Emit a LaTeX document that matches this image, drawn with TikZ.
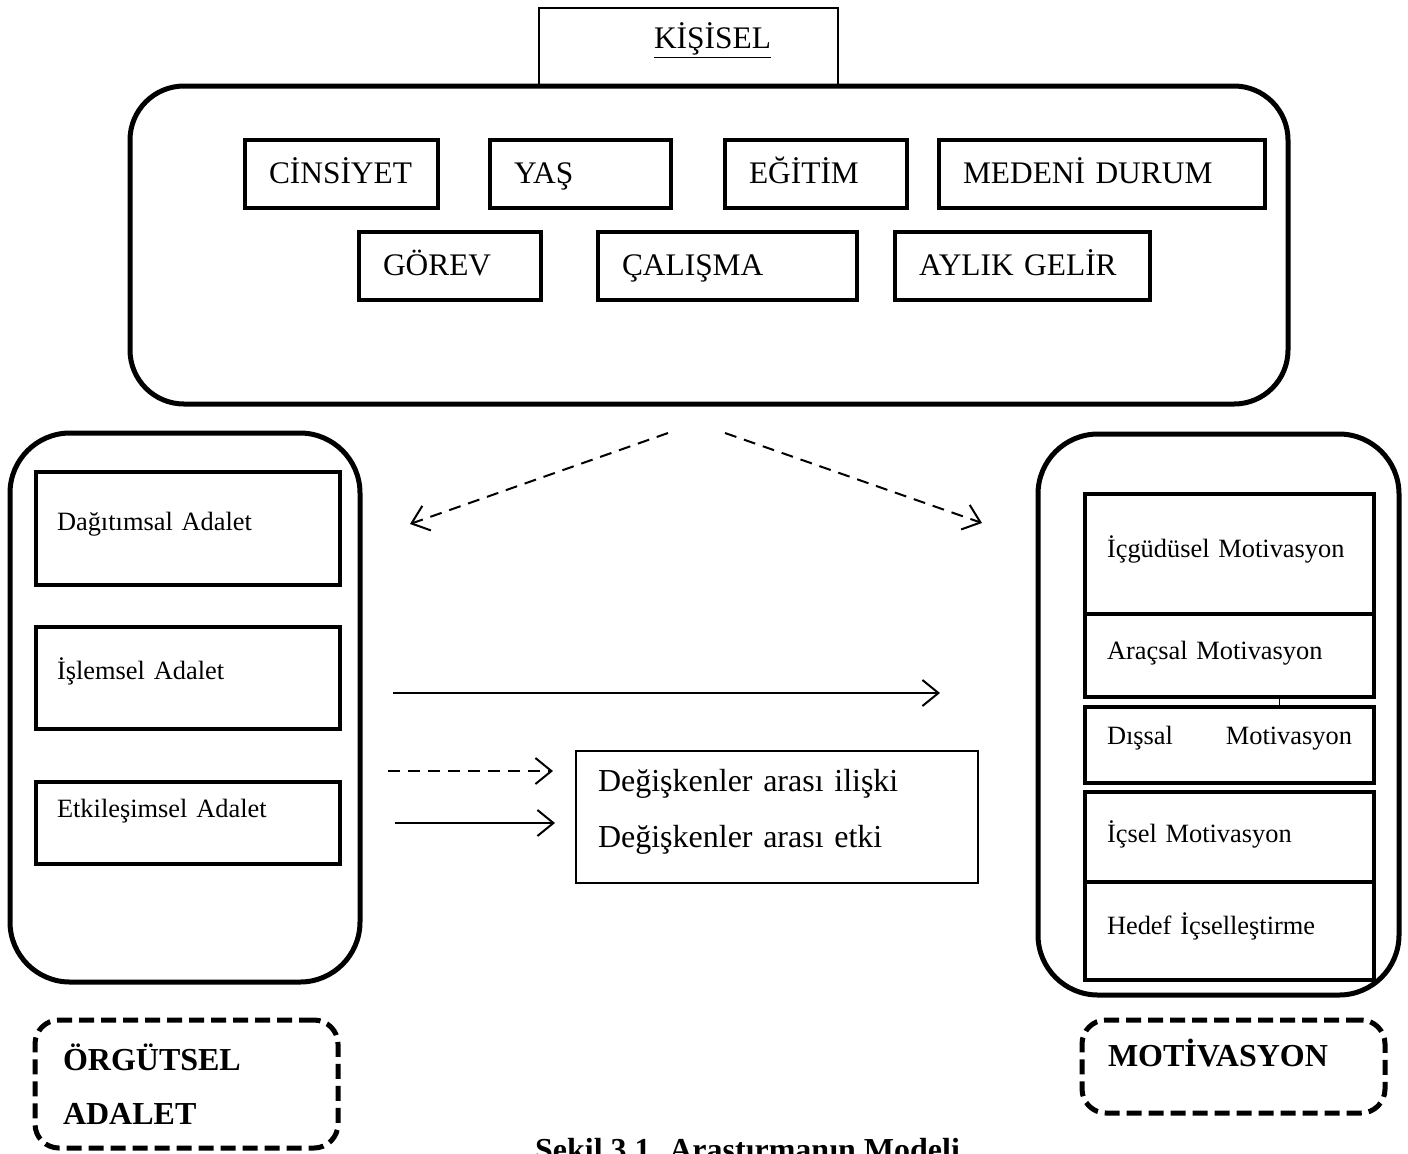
\documentclass[tikz,border=0pt]{standalone}
\usepackage{fontspec}
\setmainfont{Liberation Serif}
\usetikzlibrary{
  arrows.meta,
  positioning
}
\tikzset{
  kutu/.style={
    draw,
    line width=2pt,
    minimum height=34pt,
    inner xsep=12pt,
    inner ysep=0pt,
    text height=11pt,
    text depth=2pt,
    align=left,
    anchor=west,
    font=\fontsize{15.7}{18}\selectfont},
  alt/.style={
    draw,
    line width=2pt,
    inner ysep=0pt,
    text height=9pt,
    align=left,
    anchor=north west,
    font=\fontsize{13.2}{16}\selectfont},
  solic/.style={alt, inner xsep=10.5pt, text width=131pt},
  sagic/.style={alt, inner xsep=11pt, text width=122.5pt},
  kap/.style={draw, line width=2.5pt, rounded corners=30pt},
  grup/.style={
    draw,
    line width=2.5pt,
    dash pattern=on 7.5pt off 3.5pt,
    rounded corners=12pt,
    align=left,
    inner ysep=0pt,
    font=\bfseries\fontsize{16}{27}\selectfont},
  ok/.style={line width=1pt, -{Straight Barb[length=8pt,width=13pt]}},
  kesik/.style={ok, dash pattern=on 6pt off 4pt}
}
\begin{document}
\begin{tikzpicture}[x=0.5pt,y=-0.5pt]
	\useasboundingbox (0,0) rectangle (1408,1153);
	% kisisel ozellikler
	\node[draw, line width=0.8pt, anchor=north west, minimum width=149.5pt, minimum height=39.5pt] (baslikkutu) at (538,7) {};
	\node[anchor=base, font=\fontsize{15.7}{18}\selectfont] (baslik) at (712.5,48) {\underline{KİŞİSEL}};
	\node[kap, rounded corners=27pt, minimum width=579pt, minimum height=159pt] (kisisel) at (709,245) {};
	\node[kutu, text width=72.5pt] (cinsiyet) at (243,174) {CİNSİYET};
	\node[kutu, text width=66.5pt] (yas) at (488,174) {YAŞ};
	\node[kutu, text width=67pt] (egitim) at (723,174) {EĞİTİM};
	\node[kutu, text width=139pt] (medeni) at (937,174) {MEDENİ DURUM};
	\node[kutu, text width=67pt] (gorev) at (357,266) {GÖREV};
	\node[kutu, text width=105.5pt] (calisma) at (596,266) {ÇALIŞMA};
	\node[kutu, text width=103.5pt] (gelir) at (893,266) {AYLIK GELİR};
	% orgutsel adalet
	\node[kap, minimum width=175pt, minimum height=274.5pt] (adalet) at (185,707.5) {};
	\node[solic, minimum height=56.5pt, text depth=7.5pt] (dagitim) at (34,470) {Dağıtımsal Adalet};
	\node[solic, minimum height=51pt, text depth=8pt] (islem) at (34,625) {İşlemsel Adalet};
	\node[solic, minimum height=41pt, text depth=15pt] (etkilesim) at (34,780) {Etkileşimsel Adalet};
	% motivasyon
	\node[kap, minimum width=180.5pt, minimum height=280.5pt] (motivasyon) at (1218.5,714.5) {};
	\node[sagic, minimum height=60pt, text depth=6pt] (icgudu) at (1083,492) {İçgüdüsel Motivasyon};
	\node[sagic, minimum height=41.5pt, text depth=5.5pt] (aracsal) at (1083,612) {Araçsal Motivasyon};
	\node[sagic, minimum height=38pt, text depth=10pt] (dissal) at (1083,705) {Dışsal\hfill Motivasyon};
	\node[sagic, minimum height=45pt, text depth=4pt] (icsel) at (1083,790) {İçsel Motivasyon};
	\node[sagic, minimum height=49pt, text depth=6pt] (hedef) at (1083,880) {Hedef İçselleştirme};
	\draw[line width=0.8pt] ([xshift=25pt]aracsal.south) -- ([xshift=25pt]dissal.north);
	% lejant
	\node[draw, line width=1pt, anchor=north west, minimum width=201pt, minimum height=66pt, inner xsep=11pt, inner ysep=0pt, text width=179pt, text height=11pt, text depth=37pt, align=left, font=\fontsize{16}{28}\selectfont] (lejant) at (575,750) {Değişkenler arası ilişki\\Değişkenler arası etki};
	% grup adlari
	\node[grup, minimum width=151.5pt, minimum height=64pt, inner xsep=14pt, text width=123.5pt] (grupadalet) at (186.5,1084) {ÖRGÜTSEL\\ADALET};
	\node[grup, minimum width=151.5pt, minimum height=46.5pt, inner xsep=13pt, text width=125.5pt, text height=12pt, text depth=12pt] (grupmotiv) at (1233.5,1066.5) {MOTİVASYON};
	\node[anchor=base west, font=\bfseries\fontsize{16}{19}\selectfont] (sekil) at (528,1160) {Şekil 3.1. Araştırmanın Modeli};
	% oklar
	\coordinate (sol1) at (668,433);
	\coordinate (sol2) at (410,524);
	\coordinate (sag1) at (725,433);
	\coordinate (sag2) at (982,523);
	\coordinate (etki1) at (393,693);
	\coordinate (etki2) at (940,693);
	\coordinate (lej1) at (388,771);
	\coordinate (lej2) at (553,771);
	\coordinate (lej3) at (395,823);
	\coordinate (lej4) at (555,823);
	\draw[kesik] (sol1) -- (sol2);
	\draw[kesik] (sag1) -- (sag2);
	\draw[ok] (etki1) -- (etki2);
	\draw[kesik] (lej1) -- (lej2);
	\draw[ok] (lej3) -- (lej4);
\end{tikzpicture}
\end{document}
